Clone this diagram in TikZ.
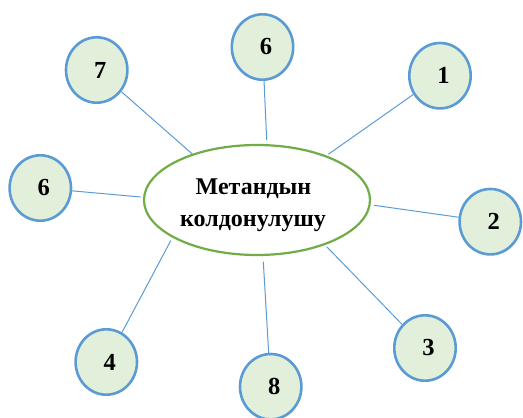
\documentclass[tikz,border=0pt]{standalone}
\usepackage{fontspec}
\setmainfont{Liberation Serif}
\usetikzlibrary{shapes.geometric}
\definecolor{circfill}{HTML}{E2EFDA}
\definecolor{circline}{HTML}{5B9BD5}
\definecolor{hubline}{HTML}{70AD47}
\tikzset{
  numcirc/.style={ellipse, draw=circline, line width=2.6pt, fill=circfill,
    minimum width=61.4pt, minimum height=65.4pt, inner sep=0pt,
    font=\fontsize{24.5}{24.5}\selectfont\bfseries},
  hub/.style={ellipse, draw=hubline, line width=2.2pt, fill=white,
    minimum width=226pt, minimum height=110pt, inner sep=0pt},
  hubtext/.style={anchor=base, inner sep=0pt, font=\fontsize{24}{24}\selectfont\bfseries},
  spoke/.style={draw=circline, line width=1pt}
}
\begin{document}
\begin{tikzpicture}[x=1pt,y=-1pt]
\useasboundingbox (0,0) rectangle (523,418);
% hub
\node[hub] (hub) at (257,200) {};
\node[hubtext] (t1) at (253.5,194.3) {Метандын};
\node[hubtext] (t2) at (253,226) {колдонулушу};
% circles
\node[numcirc] (c7) at (96.7,70) {\hspace*{7pt}7};
\node[numcirc] (c6t) at (262.5,47) {\hspace*{7pt}6};
\node[numcirc] (c1) at (440,75.7) {\hspace*{7pt}1};
\node[numcirc] (c6l) at (40.3,188) {\hspace*{7pt}6};
\node[numcirc] (c2) at (490.3,221.7) {\hspace*{7pt}2};
\node[numcirc] (c3) at (425,348) {\hspace*{7pt}3};
\node[numcirc] (c4) at (106.3,362) {\hspace*{7pt}4};
\node[numcirc] (c8) at (270.7,386.7) {\hspace*{7pt}8};
% spoke ends near hub
\coordinate (e7) at (192.3,154);
\coordinate (e6t) at (266.7,140);
\coordinate (e1) at (328.3,154.3);
\coordinate (e6l) at (140.7,197);
\coordinate (e2) at (374,205.3);
\coordinate (e3) at (326.7,246.7);
\coordinate (e4) at (170.7,240.7);
\coordinate (e8) at (263.3,261.7);
% spokes
\draw[spoke] (c7) -- (e7);
\draw[spoke] (c6t) -- (e6t);
\draw[spoke] (c1) -- (e1);
\draw[spoke] (c6l) -- (e6l);
\draw[spoke] (c2) -- (e2);
\draw[spoke] (c3) -- (e3);
\draw[spoke] (c4) -- (e4);
\draw[spoke] (c8) -- (e8);
\end{tikzpicture}
\end{document}
